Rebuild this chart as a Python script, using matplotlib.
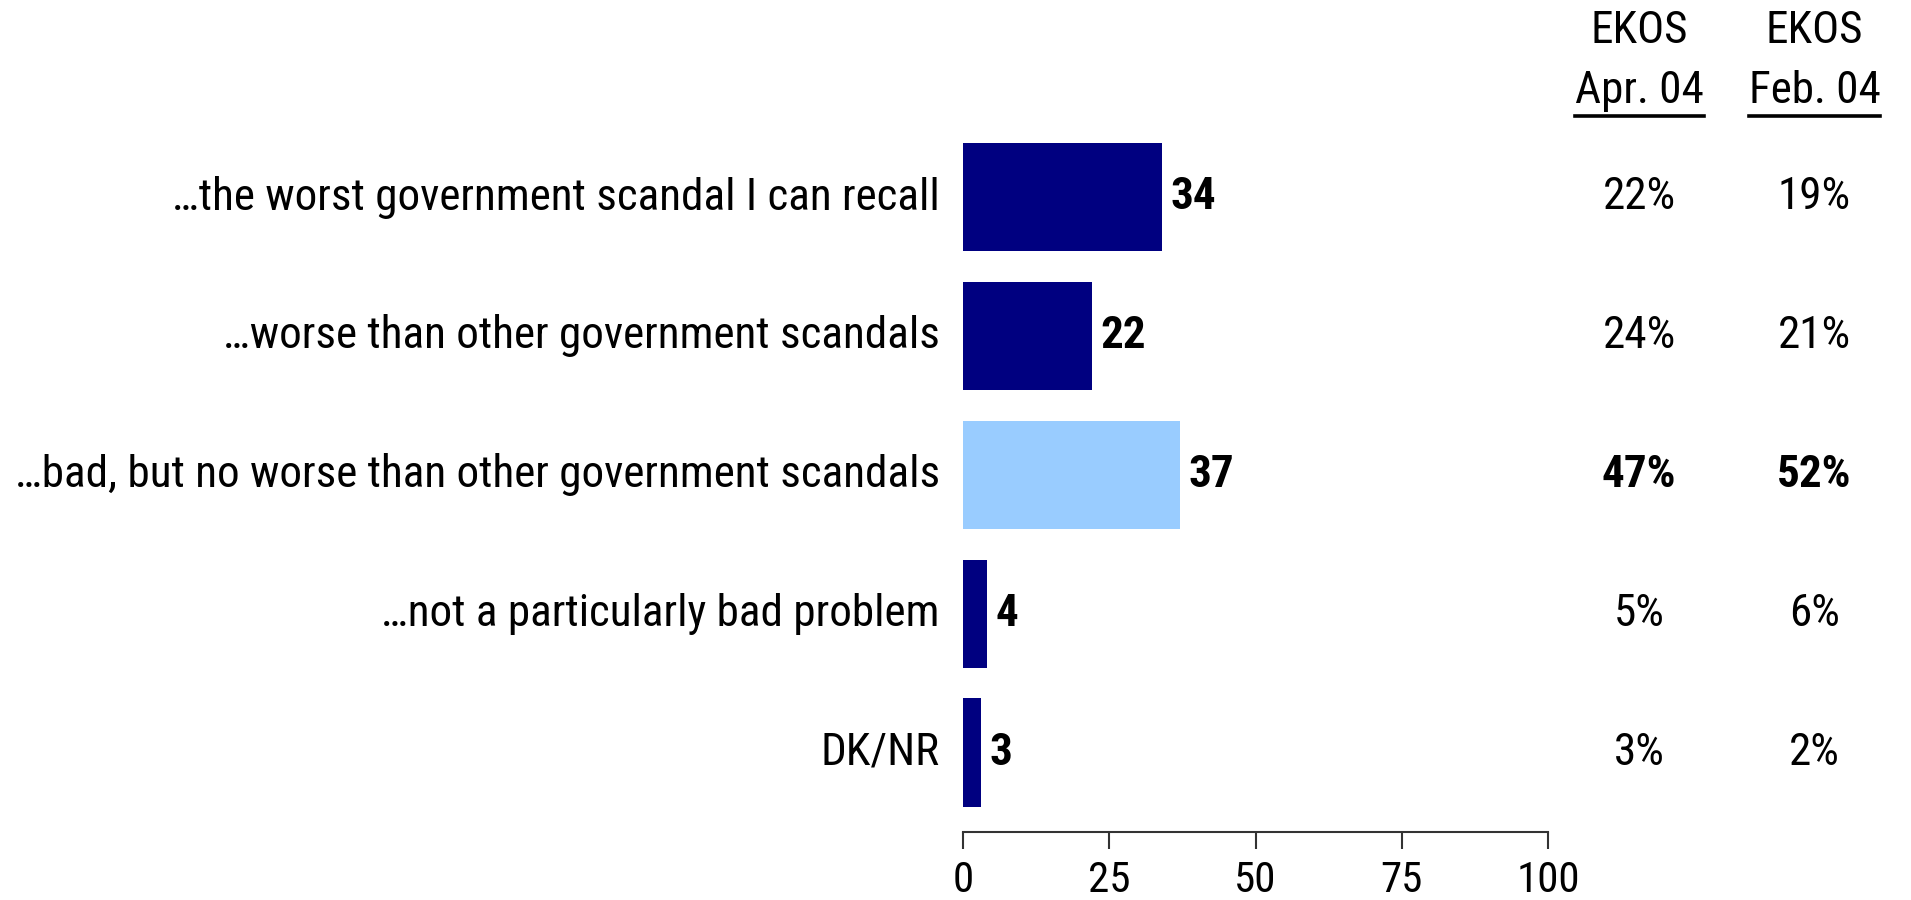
import matplotlib.pyplot as plt
import numpy as np

# Data
categories = ['\u2026the worst government scandal I can recall',
              '\u2026worse than other government scandals',
              '\u2026bad, but no worse than other government scandals',
              '\u2026not a particularly bad problem',
              'DK/NR']
values = [34, 22, 37, 4, 3]
apr04 = ['22%', '24%', '47%', '5%', '3%']
feb04 = ['19%', '21%', '52%', '6%', '2%']
highlight = 2
col_headers = [('EKOS', 'Apr. 04'), ('EKOS', 'Feb. 04')]
xticks = [0, 25, 50, 75, 100]

plt.rcParams['font.family'] = ['Roboto Condensed', 'Liberation Sans', 'DejaVu Sans']

dark = '#000080'
light = '#99CCFF'
fs = 32.5

fig = plt.figure(figsize=(19.11, 9), dpi=100)
ax = fig.add_axes([0.504, 0.0756, 0.306, 0.798])

y = np.arange(len(categories))
colors = [light if i == highlight else dark for i in range(len(values))]
ax.barh(y, values, height=0.78, color=colors)

ax.set_xlim(0, 100)
ax.set_ylim(4.571, -0.6)

for s in ['top', 'right', 'left']:
    ax.spines[s].set_visible(False)
ax.spines['bottom'].set_color('#333333')
ax.spines['bottom'].set_linewidth(1.5)
ax.set_yticks([])
ax.set_xticks(xticks)
ax.tick_params(axis='x', direction='out', length=12, width=1.5, color='#333333',
               labelsize=31, pad=8)

# category labels
for i, c in enumerate(categories):
    ax.text(-4, i, c, ha='right', va='center', fontsize=fs)

# value labels
for i, v in enumerate(values):
    ax.text(v + 1.5, i, str(v), ha='left', va='center', fontsize=fs, fontweight='bold')

# side columns
col_x = [0.8577, 0.9495]
for cx, vals in zip(col_x, [apr04, feb04]):
    for i, s in enumerate(vals):
        yf = fig.transFigure.inverted().transform(ax.transData.transform((0, i)))[1]
        fig.text(cx, yf, s, ha='center', va='center', fontsize=fs,
                 fontweight='bold' if i == highlight else 'normal')

fig.canvas.draw()
renderer = fig.canvas.get_renderer()
for cx, (h1, h2) in zip(col_x, col_headers):
    fig.text(cx, 0.966, h1, ha='center', va='center', fontsize=fs)
    t = fig.text(cx, 0.899, h2, ha='center', va='center', fontsize=fs)
    bb = t.get_window_extent(renderer).transformed(fig.transFigure.inverted())
    fig.add_artist(plt.Line2D([bb.x0, bb.x1], [0.871, 0.871],
                              transform=fig.transFigure, color='black', lw=2.6))

fig.savefig('out.png', dpi=100)
